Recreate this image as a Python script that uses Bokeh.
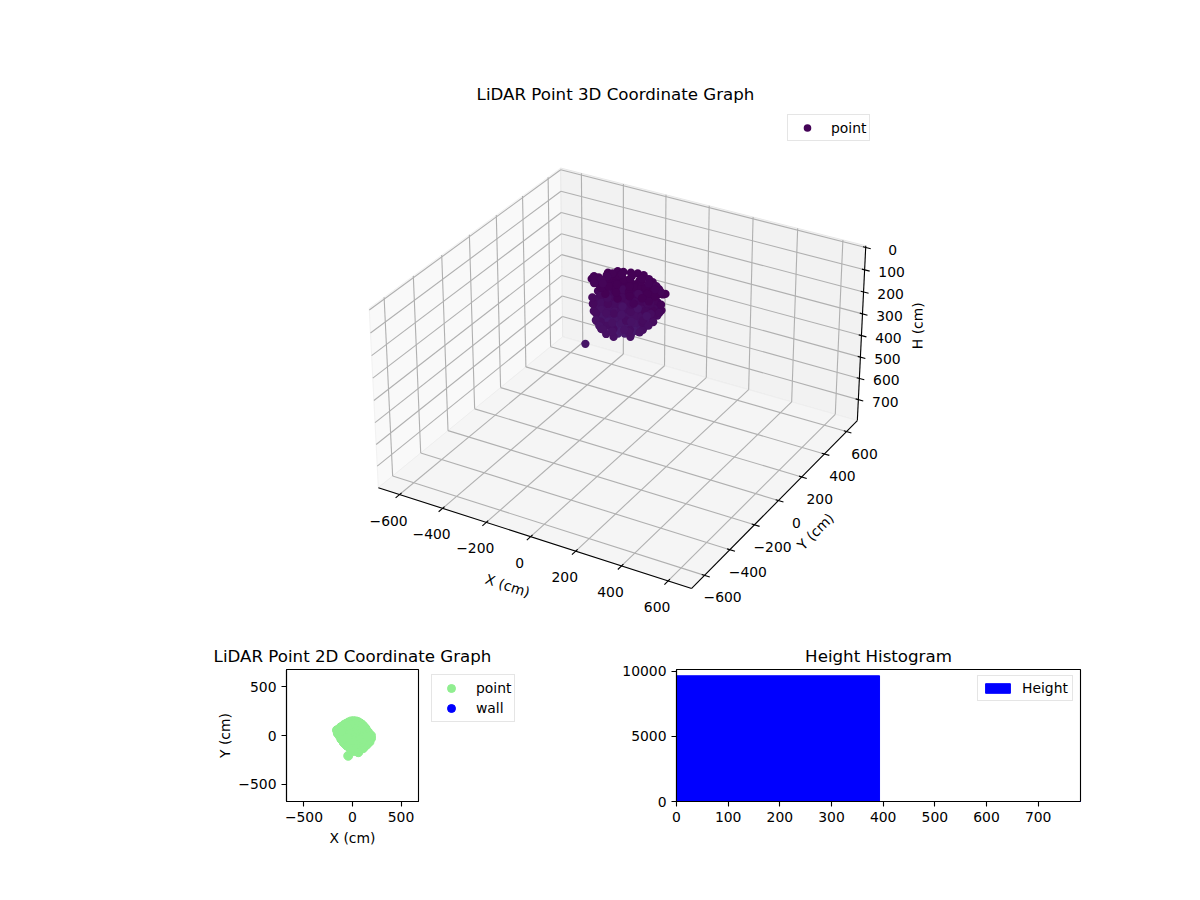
from bokeh.core.properties import value
from bokeh.embed import file_html
from bokeh.layouts import column, row
from bokeh.models import ColumnDataSource, Range1d
from bokeh.palettes import Viridis256
from bokeh.plotting import figure
from bokeh.resources import INLINE
from bokeh.transform import linear_cmap
import numpy as np

# lidar points, body first so the top cap is drawn last
pt_x = [-110, -110, -110, -110, -110,
        -80, -80, -80, -80, -80, -80, -80,
        -50, -50, -50, -50, -50, -50, -50, -50,
        -20, -20, -20, -20, -20, -20, -20, -20, -20,
        10, 10, 10, 10, 10, 10, 10, 10,
        40, 40, 40, 40, 40, 40, 40, 40,
        70, 70, 70, 70, 70, 70, 70, 70,
        100, 100, 100, 100, 100, 100,
        130, 130, 130, 130, 130,
        155, 155, 155, 155,
        -95, -95, -95, -95, -95,
        -65, -65, -65, -65, -65, -65,
        -35, -35, -35, -35, -35, -35, -35,
        -5, -5, -5, -5, -5, -5, -5, -5,
        25, 25, 25, 25, 25, 25, 25,
        55, 55, 55, 55, 55, 55, 55,
        85, 85, 85, 85, 85, 85, 85,
        115, 115, 115, 115, 115,
        140, 140, 140, 140,
        190, 175, 145, 110, 60, 20, -20, -55, -85, -110,
        185, 170, 140, 105, 55, 15, -25, -60, -90, -115,
        90, 30, 60, 65, 120, 125, 0, 5, 50, 45, 55, -50, -45, -10, -15, -5,
        120, 115, 80, 85, -40, -35, 20, 25, -90, -85,
        165, 180, 150, 125, -70, -40, -10,
        -44,
        -130, -150, -160, -120, -85, -40, 10, 55, 100, 135, 160, 190,
        140, 90, 30, -30, -80, -80, -30, 30, 80, 110, 40, -20, 20, -30,
        -50, 0, 50, 100, -100, -130, 130,
        -100, -65, -15, 35, 80, 118, -140, -150,
        60, 0, 110, -50, 150,
        20, 60, -20, 100, -60, -110, -130, -145, -115]
pt_y = [0, 0, 0, 0, 0,
        0, 0, 0, 0, 0, 0, 0,
        0, 0, 0, 0, 0, 0, 0, 0,
        0, 0, 0, 0, 0, 0, 0, 0, 0,
        0, 0, 0, 0, 0, 0, 0, 0,
        0, 0, 0, 0, 0, 0, 0, 0,
        0, 0, 0, 0, 0, 0, 0, 0,
        0, 0, 0, 0, 0, 0,
        0, 0, 0, 0, 0,
        0, 0, 0, 0,
        0, 0, 0, 0, 0,
        0, 0, 0, 0, 0, 0,
        0, 0, 0, 0, 0, 0, 0,
        0, 0, 0, 0, 0, 0, 0, 0,
        0, 0, 0, 0, 0, 0, 0,
        0, 0, 0, 0, 0, 0, 0,
        0, 0, 0, 0, 0, 0, 0,
        0, 0, 0, 0, 0,
        0, 0, 0, 0,
        -30, -65, -95, -130, -172, -160, -130, -105, -75, -40,
        -25, -60, -90, -125, -165, -150, -125, -100, -70, -35,
        -110, -130, -90, -85, -50, -45, -80, -75, -20, -15, -25, -40, -35, 10, 15, 5,
        10, 15, 50, 45, 70, 65, 85, 80, 40, 35,
        -50, -30, -60, -85, -85, -110, -135,
        -209,
        -5, 20, 55, 85, 110, 135, 148, 140, 110, 70, 35, 0,
        -40, -70, -90, -80, -30, 30, 60, 80, 40, 0, -20, -20, 20, 10,
        60, 60, 60, 60, 60, 40, 40,
        95, 120, 145, 145, 125, 90, 40, 40,
        -50, -50, -40, -20, -10,
        115, 100, 110, 80, 100, 70, 60, 30, 45]
pt_h = [55, 87, 119, 150, 182,
        36, 68, 100, 132, 164, 196, 228,
        15, 46, 78, 110, 142, 174, 206, 237,
        6, 29, 60, 92, 124, 156, 188, 220, 252,
        20, 52, 84, 116, 148, 180, 212, 244,
        11, 43, 75, 107, 139, 171, 203, 235,
        3, 35, 67, 99, 131, 163, 195, 218,
        26, 58, 90, 122, 154, 186,
        18, 50, 82, 114, 146,
        32, 64, 96, 123,
        71, 103, 135, 166, 198,
        52, 84, 116, 148, 180, 212,
        31, 62, 94, 126, 158, 190, 222,
        22, 45, 76, 108, 140, 172, 204, 236,
        36, 68, 100, 132, 164, 196, 228,
        27, 59, 91, 123, 155, 187, 219,
        19, 51, 83, 115, 147, 179, 202,
        42, 74, 106, 138, 170,
        34, 66, 98, 130,
        76, 90, 143, 167, 161, 165, 168, 155, 133, 125,
        55, 70, 115, 140, 130, 135, 140, 125, 105, 100,
        160, 165, 170, 130, 130, 90, 160, 120, 170, 130, 90, 150, 110, 170, 130, 90,
        130, 90, 170, 110, 170, 90, 170, 100, 130, 70,
        125, 90, 140, 165, 165, 170, 165,
        203,
        32, 53, 60, 58, 43, 49, 53, 68, 73, 65, 45, 18,
        45, 55, 40, 40, 50, 40, 40, 40, 40, 40, 40, 40, 40, 40,
        30, 30, 30, 30, 30, 50, 30,
        50, 45, 50, 62, 72, 70, 58, 60,
        40, 40, 40, 40, 35,
        50, 55, 45, 60, 45, 55, 70, 75, 75]

wall_x = []
wall_y = []

axis_ticks = [-600, -400, -200, 0, 200, 400, 600]
axis_tick_labels = ["−600", "−400", "−200", "0", "200", "400", "600"]
h_ticks = [0, 100, 200, 300, 400, 500, 600, 700]
h_tick_labels = ["0", "100", "200", "300", "400", "500", "600", "700"]

hist_edges = [0, 393, 786]
hist_counts = [9670, 0]

FONT = "DejaVu Sans"
TICK_SIZE = "13.9px"
TITLE_SIZE = "16.67px"
GRID = "#b0b0b0"
LW = 1.11

# 3d box limits and the view of the original (elev 30, azim -60, equal aspect)
XY_LIM = 700
H_TOP = -8
H_BOTTOM = 800
ELEV = np.radians(30)
AZIM = np.radians(-60)
DIST = 10
spans = np.array([2 * XY_LIM, 2 * XY_LIM, H_BOTTOM - H_TOP], dtype=float)
BOX = spans * 1.8294640721620434 * 25 / 24 / np.linalg.norm(spans)
W = np.array([np.cos(ELEV) * np.cos(AZIM), np.cos(ELEV) * np.sin(AZIM), np.sin(ELEV)])
U = np.array([-np.sin(AZIM), np.cos(AZIM), 0.0])
V = np.cross(W, U)

# page pixels per projected unit, and where the projected origin falls
SX, SY = 2860, 2840
OX, OY = 622, 366
FRAME_LEFT, FRAME_TOP, FRAME_BOTTOM = 38, 105, 638


def project(x, y, h):
    x = np.asarray(x, dtype=float)
    y = np.asarray(y, dtype=float)
    h = np.asarray(h, dtype=float)
    dx = ((x + XY_LIM) / (2 * XY_LIM) - 0.5) * BOX[0]
    dy = ((y + XY_LIM) / (2 * XY_LIM) - 0.5) * BOX[1]
    dz = ((H_BOTTOM - h) / (H_BOTTOM - H_TOP) - 0.5) * BOX[2]
    depth = DIST - (W[0] * dx + W[1] * dy + W[2] * dz)
    return ((U[0] * dx + U[1] * dy) / depth,
            (V[0] * dx + V[1] * dy + V[2] * dz) / depth)


def seg(p, x0, y0, h0, x1, y1, h1, **kw):
    xs, ys = project([x0, x1], [y0, y1], [h0, h1])
    p.line(xs, ys, **kw)


def style_legend(leg, padding=3, glyph_width=32, glyph_height=20, standoff=9):
    leg.margin = 0
    leg.padding = padding
    leg.spacing = 0
    leg.glyph_width = glyph_width
    leg.glyph_height = glyph_height
    leg.label_standoff = standoff
    leg.label_text_font = FONT
    leg.label_text_font_size = TICK_SIZE
    leg.label_text_color = "black"
    leg.border_line_color = "#cccccc"
    leg.border_line_width = 1.1
    leg.background_fill_alpha = 0.8


def style_title(p, standoff):
    p.title.text_font = FONT
    p.title.text_font_size = TITLE_SIZE
    p.title.text_font_style = "normal"
    p.title.text_color = "black"
    p.title.align = "center"
    p.title.standoff = standoff


def style_2d(p):
    p.grid.visible = False
    p.outline_line_color = "black"
    p.outline_line_width = LW
    style_title(p, 8)
    for ax in p.xaxis + p.yaxis:
        ax.axis_line_color = "black"
        ax.axis_line_width = LW
        ax.major_tick_line_width = LW
        ax.major_tick_in = 0
        ax.major_tick_out = 5
        ax.minor_tick_line_color = None
        ax.major_label_text_font = FONT
        ax.major_label_text_font_size = TICK_SIZE
        ax.major_label_text_color = "black"
        ax.major_label_standoff = 5
        ax.axis_label_text_font = FONT
        ax.axis_label_text_font_size = TICK_SIZE
        ax.axis_label_text_font_style = "normal"
        ax.axis_label_text_color = "black"
        ax.axis_label_standoff = 5


p3 = figure(width=1192, height=FRAME_BOTTOM, title="LiDAR Point 3D Coordinate Graph",
            x_range=Range1d((FRAME_LEFT - OX) / SX, (1192 - OX) / SX),
            y_range=Range1d((OY - FRAME_BOTTOM) / SY, (OY - FRAME_TOP) / SY),
            x_axis_type=None, y_axis_type=None, toolbar_location=None,
            output_backend="svg", min_border_left=FRAME_LEFT, min_border_right=0,
            min_border_top=FRAME_TOP, min_border_bottom=0)
p3.grid.visible = False
p3.outline_line_color = None
style_title(p3, 4)

L, T, B = XY_LIM, H_TOP, H_BOTTOM
# panes
xs, ys = project([-L, -L, -L, -L], [-L, L, L, -L], [B, B, T, T])
p3.patch(xs, ys, fill_color="#f9f9f9", line_color="#f2f2f2", line_width=1)
xs, ys = project([-L, L, L, -L], [L, L, L, L], [B, B, T, T])
p3.patch(xs, ys, fill_color="#f2f2f2", line_color="#e8e8e8", line_width=1)
xs, ys = project([-L, L, L, -L], [-L, -L, L, L], [B, B, B, B])
p3.patch(xs, ys, fill_color="#f5f5f5", line_color="#eeeeee", line_width=1)

# gridlines on the three panes
grid_kw = dict(line_color=GRID, line_width=LW)
for t in axis_ticks:
    seg(p3, t, -L, B, t, L, B, **grid_kw)
    seg(p3, -L, t, B, L, t, B, **grid_kw)
    seg(p3, t, L, B, t, L, T, **grid_kw)
    seg(p3, -L, t, B, -L, t, T, **grid_kw)
for t in h_ticks:
    seg(p3, -L, -L, t, -L, L, t, **grid_kw)
    seg(p3, -L, L, t, L, L, t, **grid_kw)

# axis lines and ticks
axis_kw = dict(line_color="black", line_width=LW)
seg(p3, -L, -L, B, L, -L, B, **axis_kw)
seg(p3, L, -L, B, L, L, B, **axis_kw)
seg(p3, L, L, B, L, L, T, **axis_kw)
for t in axis_ticks:
    seg(p3, t, -L - 28, B, t, -L + 14, B, **axis_kw)
    seg(p3, L - 12, t, B, L + 22, t, B, **axis_kw)
for t in h_ticks:
    seg(p3, L - 12, L, t, L + 22, L, t, **axis_kw)

# tick labels
label_kw = dict(text_font=value(FONT), text_font_size=value(TICK_SIZE),
                text_color="black", text_baseline="middle", text_align="center")
xs, ys = project(axis_ticks, [-L] * len(axis_ticks), [B] * len(axis_ticks))
p3.text(xs, ys, text=axis_tick_labels, x_offset=-11, y_offset=26, **label_kw)
xs, ys = project([L] * len(axis_ticks), axis_ticks, [B] * len(axis_ticks))
p3.text(xs, ys, text=axis_tick_labels, x_offset=18, y_offset=22, **label_kw)
xs, ys = project([L] * len(h_ticks), [L] * len(h_ticks), h_ticks)
p3.text(xs, ys, text=h_tick_labels, x_offset=27, y_offset=2, **label_kw)

# axis titles
xs, ys = project([0], [-L], [B])
p3.text(xs, ys, text=["X (cm)"], angle=-0.312, x_offset=-23, y_offset=49, **label_kw)
xs, ys = project([L], [0], [B])
p3.text(xs, ys, text=["Y (cm)"], angle=0.79, x_offset=37, y_offset=31, **label_kw)
xs, ys = project([L], [L], [(T + B) / 2])
p3.text(xs, ys, text=["H (cm)"], angle=1.57, x_offset=56, y_offset=-9, **label_kw)

xs, ys = project(pt_x, pt_y, pt_h)
src3 = ColumnDataSource(dict(x=xs, y=ys, h=pt_h))
p3.scatter("x", "y", source=src3, size=8.3, line_color=None, legend_label="point",
           fill_color=linear_cmap("h", Viridis256, 30, 3000))
style_legend(p3.legend[0], glyph_height=19, standoff=8)
p3.legend.location = (749, 497)

p2 = figure(width=500, height=262, title="LiDAR Point 2D Coordinate Graph",
            x_range=Range1d(-680, 680), y_range=Range1d(-680, 680),
            x_axis_label="X (cm)", y_axis_label="Y (cm)",
            toolbar_location=None, output_backend="svg",
            min_border_left=286, min_border_right=82, min_border_top=31, min_border_bottom=99)
p2.scatter(pt_x, pt_y, size=9, color="#90ee90")
p2.scatter(wall_x, wall_y, size=9, color="#0000ff")
style_2d(p2)
for ax in p2.xaxis + p2.yaxis:
    ax.ticker = [-500, 0, 500]
    ax.major_label_overrides = {-500: "−500", 0: "0", 500: "500"}
p2.yaxis.axis_label_standoff = 2

# the legend sits beside the axes: a legend of p2 would be clipped to its frame
# and an empty renderer would show no marker, so it gets its own see-through figure
# pulled back over the empty right border of p2. the row lines its frame up with p2's
pl = figure(width=88, height=262, x_range=Range1d(0, 1), y_range=Range1d(0, 1),
            x_axis_type=None, y_axis_type=None, toolbar_location=None,
            output_backend="svg", min_border=0, margin=(0, 0, 0, -70),
            background_fill_alpha=0, border_fill_alpha=0)
pl.grid.visible = False
pl.outline_line_color = None
pl.scatter([float("nan")], [float("nan")], size=9, color="#90ee90", legend_label="point")
pl.scatter([float("nan")], [float("nan")], size=9, color="#0000ff", legend_label="wall")
style_legend(pl.legend[0])
pl.legend.location = (1, 79)

ph = figure(width=602, height=262, title="Height Histogram",
            x_range=Range1d(0, 782), y_range=Range1d(0, 10153),
            toolbar_location=None, output_backend="svg", margin=(0, 0, 0, 72),
            min_border_left=86, min_border_right=112, min_border_top=31, min_border_bottom=99)
ph.quad(left=hist_edges[:-1], right=hist_edges[1:], bottom=0, top=hist_counts,
        color="#0000ff", legend_label="Height")
style_2d(ph)
ph.xaxis.ticker = [0, 100, 200, 300, 400, 500, 600, 700]
ph.yaxis.ticker = [0, 5000, 10000]
style_legend(ph.legend[0], padding=4, glyph_width=31, glyph_height=12)
ph.legend.location = (301, 100)

layout = column(p3, row(p2, pl, ph))
open("out.html", "w").write(file_html(layout, INLINE))
